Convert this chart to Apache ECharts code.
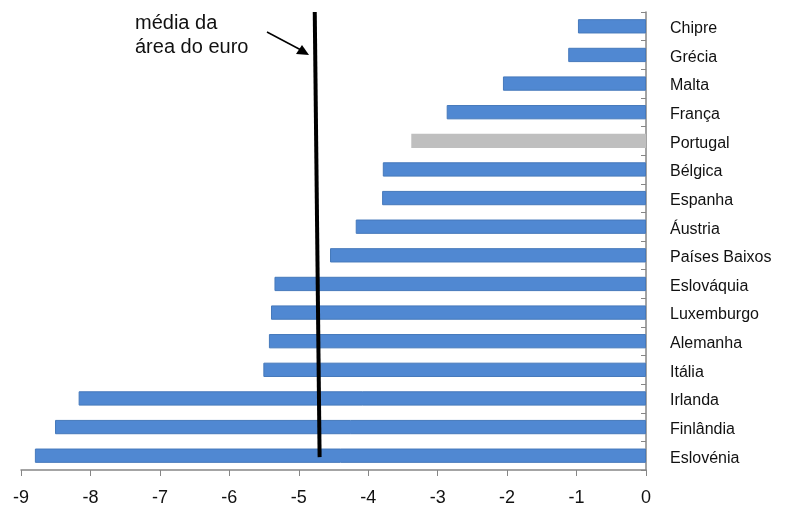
<!DOCTYPE html>
<html>
<head>
<meta charset="utf-8">
<script src="https://cdn.jsdelivr.net/npm/echarts@6/dist/echarts.min.js"></script>
<style>
  html, body { margin: 0; padding: 0; background: #fff; }
  #chart { width: 787px; height: 515px; }
</style>
</head>
<body>
<div id="chart"></div>
<script>
// countries, top to bottom
const countries = ['Chipre', 'Grécia', 'Malta', 'França', 'Portugal', 'Bélgica', 'Espanha', 'Áustria',
  'Países Baixos', 'Eslováquia', 'Luxemburgo', 'Alemanha', 'Itália', 'Irlanda', 'Finlândia', 'Eslovénia'];
const values = [-0.98, -1.12, -2.06, -2.87, -3.38, -3.79, -3.80, -4.18,
  -4.55, -5.35, -5.40, -5.43, -5.51, -8.17, -8.51, -8.80];
const highlight = 'Portugal';
// euro area average line (drawn slightly slanted in the original)
const euroLine = [[-4.77, 16], [-4.70, 0.45]];
const xTicks = [-9, -8, -7, -6, -5, -4, -3, -2, -1, 0];

const FONT = '"Liberation Sans", Arial, sans-serif';
const chart = echarts.init(document.getElementById('chart'));

const gridBox = { left: 21, right: 141, top: 12, bottom: 45 };

chart.setOption({
  animation: false,
  grid: [Object.assign({}, gridBox), Object.assign({}, gridBox)],
  xAxis: [{
    type: 'value', gridIndex: 0, min: xTicks[0], max: xTicks[xTicks.length - 1], interval: 1,
    splitLine: { show: false },
    axisLine: { show: true, lineStyle: { color: '#868686', width: 1.5 } },
    axisTick: { show: true, length: 6, lineStyle: { color: '#868686' } },
    axisLabel: { fontFamily: FONT, fontSize: 18, color: '#111', margin: 19 }
  }, {
    type: 'value', gridIndex: 1, min: -9, max: 0, show: false
  }],
  yAxis: [{
    type: 'category', gridIndex: 0, data: countries, inverse: true, position: 'right',
    axisLine: { show: true, onZero: false, lineStyle: { color: '#868686', width: 1.5 } },
    axisTick: { show: true, inside: true, length: 5, lineStyle: { color: '#868686' } },
    axisLabel: {
      align: 'left', margin: 24,
      formatter: (v) => '{c|' + v + '}',
      rich: { c: { fontFamily: FONT, fontSize: 16, color: '#111', padding: [5, 0, 0, 0] } }
    }
  }, {
    type: 'value', gridIndex: 1, min: 0, max: 16, show: false
  }],
  series: [{
    type: 'bar', xAxisIndex: 0, yAxisIndex: 0, barWidth: '50%',
    data: values.map((v, i) => ({
      value: v,
      itemStyle: countries[i] === highlight
        ? { color: '#bfbfbf', borderColor: '#bfbfbf', borderWidth: 0 }
        : { color: '#5088d2', borderColor: '#4679bb', borderWidth: 1 }
    }))
  }, {
    type: 'line', xAxisIndex: 1, yAxisIndex: 1, data: euroLine,
    symbol: 'none', lineStyle: { color: '#000', width: 4 }, z: 5
  }],
  graphic: [
    { type: 'text', left: 135, top: 13, style: { text: 'média da', font: '20px ' + FONT, fill: '#111' } },
    { type: 'text', left: 135, top: 37, style: { text: 'área do euro', font: '20px ' + FONT, fill: '#111' } },
    { type: 'line', shape: { x1: 267, y1: 32, x2: 301, y2: 50 }, style: { stroke: '#000', lineWidth: 1.5 } },
    { type: 'polygon', shape: { points: [[309, 55], [296, 54], [302, 45]] }, style: { fill: '#000' } }
  ]
});
</script>
</body>
</html>
